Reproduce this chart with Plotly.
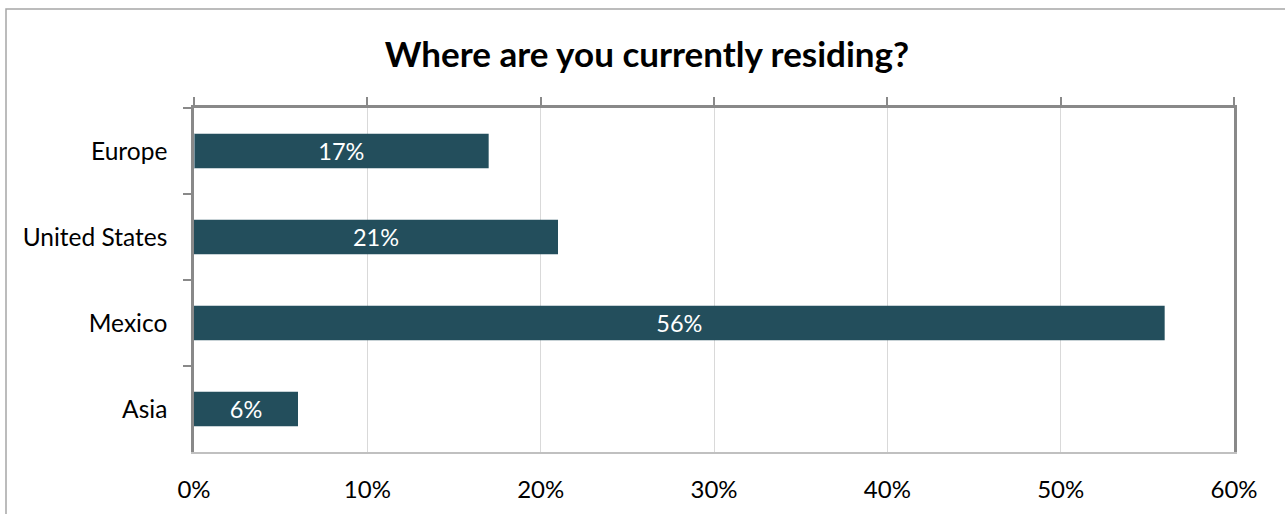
import plotly.graph_objects as go

# Survey results: share of respondents by current region of residence
regions = ["Europe", "United States", "Mexico", "Asia"]
shares = [17, 21, 56, 6]  # percent
x_ticks = [0, 10, 20, 30, 40, 50, 60]
title_text = "Where are you currently residing?"

W, H = 1285, 514
L, R, T, B = 194, 51, 108, 62

bar_color = "#234e5c"
frame_color = "#898989"
font_family = "Lato, 'Open Sans', sans-serif"

fig = go.Figure()
fig.add_trace(go.Bar(
    x=shares,
    y=regions,
    orientation="h",
    width=0.4,
    marker=dict(color=bar_color, line=dict(width=0)),
    text=[f"{v}%" for v in shares],
    textposition="inside",
    insidetextanchor="middle",
    textangle=0,
    constraintext="none",
    textfont=dict(color="white", size=23.5, family=font_family),
    hoverinfo="skip",
))
# invisible trace bound to the top axis so its ticks are drawn
fig.add_trace(go.Bar(x=[0], y=[regions[0]], xaxis="x2", orientation="h",
                     marker=dict(color="rgba(0,0,0,0)"), hoverinfo="skip",
                     showlegend=False))

# outer chart border (paper coordinates relative to plot area)
pw, ph = W - L - R, H - T - B
fig.add_shape(type="rect", xref="paper", yref="paper",
              x0=(6 - L) / pw, x1=(W + 10 - L) / pw,
              y0=-(H + 10 - (H - B)) / ph, y1=((H - B) - 9) / ph,
              line=dict(color="#a6a6a6", width=1.5), layer="below")

fig.update_layout(
    width=W, height=H,
    margin=dict(l=L, r=R, t=T, b=B, pad=0, autoexpand=False),
    paper_bgcolor="white",
    plot_bgcolor="white",
    showlegend=False,
    bargap=0.6,
    barmode="overlay",
    font=dict(family=font_family, color="black", size=24),
    title=dict(text=f"<b>{title_text}</b>", x=0.5035, xanchor="center",
               y=1 - 55 / H, yanchor="middle", yref="container",
               font=dict(size=35, family=font_family, color="black")),
    xaxis=dict(
        range=[0, 60], tickvals=x_ticks, ticktext=[f"{v}%" for v in x_ticks],
        showgrid=True, gridcolor="#d9d9d9", gridwidth=1,
        zeroline=False, showline=True, linecolor="#c0c0c0", linewidth=2,
        ticks="", ticklabelstandoff=15, automargin=False,
        tickfont=dict(size=24, family=font_family),
        fixedrange=True,
    ),
    xaxis2=dict(
        range=[0, 60], tickvals=x_ticks, overlaying="x", side="top",
        showgrid=False, zeroline=False, showline=True,
        linecolor=frame_color, linewidth=2.5, automargin=False,
        ticks="outside", ticklen=8, tickwidth=1.5, tickcolor=frame_color,
        showticklabels=False, fixedrange=True,
    ),
    yaxis=dict(
        categoryorder="array", categoryarray=regions, autorange="reversed",
        showline=True, mirror=True, linecolor=frame_color, linewidth=2.5,
        ticks="outside", tickson="boundaries", ticklen=8, tickwidth=1.5,
        tickcolor=frame_color, ticklabelstandoff=19, automargin=False,
        showgrid=False, zeroline=False,
        tickfont=dict(size=24.5, family=font_family),
        fixedrange=True,
    ),
)

fig.write_html("out.html", config={"displayModeBar": False})
